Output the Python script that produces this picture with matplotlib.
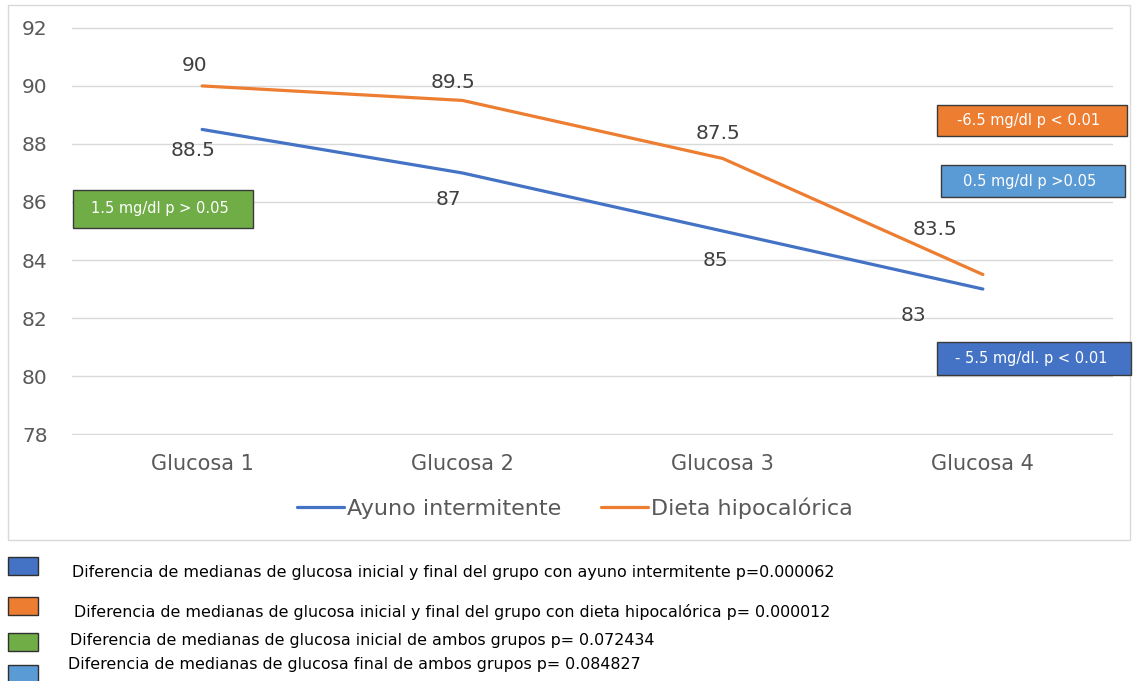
import matplotlib.pyplot as plt
from matplotlib.patches import Rectangle

categorias = ['Glucosa 1', 'Glucosa 2', 'Glucosa 3', 'Glucosa 4']
ayuno = [88.5, 87, 85, 83]
dieta = [90, 89.5, 87.5, 83.5]
yticks = [78, 80, 82, 84, 86, 88, 90, 92]
notas = [
    'Diferencia de medianas de glucosa inicial y final del grupo con ayuno intermitente p=0.000062',
    'Diferencia de medianas de glucosa inicial y final del grupo con dieta hipocalórica p= 0.000012',
    'Diferencia de medianas de glucosa inicial de ambos grupos p= 0.072434',
    'Diferencia de medianas de glucosa final de ambos grupos p= 0.084827',
]
AZUL, NARANJA, VERDE, CELESTE = '#4472C4', '#ED7D31', '#70AD47', '#5B9BD5'

plt.rcParams['font.family'] = ['DejaVu Sans']
fig = plt.figure(figsize=(11.36, 6.81), dpi=100)
W, H = 1136, 681
def fx(px): return px / W
def fy(py): return 1 - py / H

# borde del grafico
fig.patches.append(Rectangle((fx(8), fy(540)), fx(1130) - fx(8), fy(5) - fy(540),
                             transform=fig.transFigure, fill=False, ec='#D9D9D9', lw=1))

ax = fig.add_axes([fx(72), fy(435), fx(1113) - fx(72), fy(27) - fy(435)])
x = range(len(categorias))
ax.plot(x, ayuno, color=AZUL, lw=2.3, label='Ayuno intermitente', solid_capstyle='round')
ax.plot(x, dieta, color=NARANJA, lw=2.3, label='Dieta hipocalórica', solid_capstyle='round')
ax.set_xlim(-0.5, 3.5)
ax.set_ylim(77.97, 92.03)
ax.set_yticks(yticks)
ax.set_xticks(list(x))
ax.set_xticklabels(categorias)
ax.tick_params(axis='both', length=0, labelsize=14.5, colors='#595959')
ax.tick_params(axis='x', pad=14, labelsize=15)
ax.tick_params(axis='y', pad=36)
for lab in ax.get_yticklabels():
    lab.set_horizontalalignment('left')
ax.grid(axis='y', color='#D9D9D9', lw=1)
ax.set_axisbelow(True)
for s in ax.spines.values():
    s.set_visible(False)

# etiquetas de datos
off_a = [(-6.5, -15), (-10, -19), (-5, -21.6), (-50, -18.7)]
off_d = [(-5.8, 14.4), (-7, 13), (-3.6, 18), (-34.6, 32.4)]
for i, v in enumerate(ayuno):
    ax.annotate(f'{v:g}', (i, v), xytext=off_a[i], textcoords='offset points',
                ha='center', va='center', fontsize=14.5, color='#404040')
for i, v in enumerate(dieta):
    ax.annotate(f'{v:g}', (i, v), xytext=off_d[i], textcoords='offset points',
                ha='center', va='center', fontsize=14.5, color='#404040')

ax.legend(loc='center', bbox_to_anchor=(fx(575), fy(508)), bbox_transform=fig.transFigure,
          ncol=2, frameon=False, fontsize=16, handlelength=2.1, columnspacing=1.8,
          handletextpad=0.15, labelcolor='#595959')

# cajas de diferencias
cajas = [
    (73, 190, 253, 228, VERDE, '1.5 mg/dl p > 0.05'),
    (937, 105, 1127, 136, NARANJA, '-6.5 mg/dl p < 0.01'),
    (941, 165, 1125, 197, CELESTE, '0.5 mg/dl p >0.05'),
    (937, 342, 1131, 375, AZUL, '- 5.5 mg/dl. p < 0.01'),
]
for x0, y0, x1, y1, c, t in cajas:
    fig.patches.append(Rectangle((fx(x0), fy(y1)), fx(x1) - fx(x0), fy(y0) - fy(y1),
                                 transform=fig.transFigure, fc=c, ec='#3A3A3A', lw=1))
    fig.text(fx((x0 + x1) / 2 - 3), fy((y0 + y1) / 2), t, ha='center', va='center',
             color='white', fontsize=10.5)

# leyenda inferior
cuadros = [(557, 575, AZUL), (597, 615, NARANJA), (633, 651, VERDE), (665, 683, CELESTE)]
text_y = [573, 612, 640, 665]
text_x = [72, 74, 70, 68]
for (y0, y1, c), ty, tx, t in zip(cuadros, text_y, text_x, notas):
    fig.patches.append(Rectangle((fx(8), fy(y1)), fx(38) - fx(8), fy(y0) - fy(y1),
                                 transform=fig.transFigure, fc=c, ec='#2F2F2F', lw=1))
    fig.text(fx(tx), fy(ty), t, ha='left', va='center', fontsize=11.4, color='black')

fig.savefig('out.png', dpi=100)
